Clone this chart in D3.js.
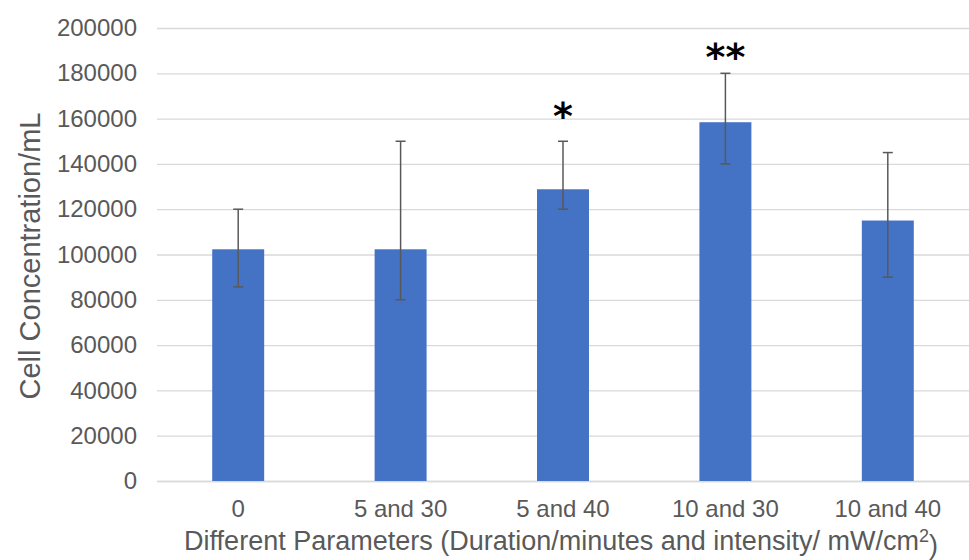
<!DOCTYPE html>
<html>
<head>
<meta charset="utf-8">
<script src="https://cdn.jsdelivr.net/npm/d3@7"></script>
<style>
  body { margin: 0; background: #fff; }
  .tick text, .lbl { font-family: "Liberation Sans", Arial, sans-serif; fill: #595959; }
</style>
</head>
<body>
<div class="CellChart"></div>
<script>
// chart values
var categories = ["0", "5 and 30", "5 and 40", "10 and 30", "10 and 40"];
var means    = [102300, 102300, 128800, 158400, 115000];
var errLow   = [85700, 80000, 120000, 140000, 90000];
var errHigh  = [120000, 150000, 150000, 180000, 145000];
var marks    = ["", "", "*", "**", ""];
var markAt   = [0, 0, 164000, 190000, 0];   // where the significance marks sit (value units)
var yTicks   = [0, 20000, 40000, 60000, 80000, 100000, 120000, 140000, 160000, 180000, 200000];

var margin = {top: 28, right: 0, bottom: 79, left: 157},
    width = 969 - margin.left - margin.right,
    height = 560 - margin.top - margin.bottom;

var svg = d3.select(".CellChart").append("svg")
    .attr("width", 969)
    .attr("height", 560)
  .append("g")
    .attr("transform", "translate(" + margin.left + "," + margin.top + ")");

var x = d3.scaleBand()
    .domain(categories)
    .range([0, width]);

var y = d3.scaleLinear()
    .domain([0, 200000])
    .range([height, 0]);

var barW = x.bandwidth() * 0.32;

var yAxis = d3.axisLeft(y)
    .tickValues(yTicks)
    .tickSize(-width)
    .tickPadding(20)
    .tickFormat(d3.format("d"));

var gy = svg.append("g").attr("class", "y axis").call(yAxis);
gy.select(".domain").remove();
gy.selectAll(".tick line").attr("stroke", "#d9d9d9").attr("stroke-width", 1.3);
gy.selectAll(".tick text").style("font-size", "24px");

var xAxis = d3.axisBottom(x).tickSize(0).tickPadding(19);
var gx = svg.append("g")
    .attr("class", "x axis")
    .attr("transform", "translate(0," + height + ")")
    .call(xAxis);
gx.select(".domain").attr("stroke", "#d9d9d9").attr("stroke-width", 1.3);
gx.selectAll(".tick text").style("font-size", "24px");

var data = categories.map(function(c, i) {
  return {cat: c, mean: means[i], lo: errLow[i], hi: errHigh[i], mark: marks[i], markAt: markAt[i]};
});

svg.selectAll(".bar")
    .data(data)
  .enter().append("rect")
    .attr("class", "bar")
    .attr("x", function(d){ return x(d.cat) + x.bandwidth() / 2 - barW / 2; })
    .attr("width", barW)
    .attr("y", function(d){ return y(d.mean); })
    .attr("height", function(d){ return height - y(d.mean); })
    .style("fill", "#4472c4");

// error bars
var eb = svg.selectAll(".err")
    .data(data)
  .enter().append("g")
    .attr("class", "err")
    .attr("stroke", "#595959")
    .attr("stroke-width", 1.5);

eb.append("line")
    .attr("x1", function(d){ return x(d.cat) + x.bandwidth() / 2; })
    .attr("x2", function(d){ return x(d.cat) + x.bandwidth() / 2; })
    .attr("y1", function(d){ return y(d.lo); })
    .attr("y2", function(d){ return y(d.hi); });

["lo", "hi"].forEach(function(k) {
  eb.append("line")
      .attr("x1", function(d){ return x(d.cat) + x.bandwidth() / 2 - 5; })
      .attr("x2", function(d){ return x(d.cat) + x.bandwidth() / 2 + 5; })
      .attr("y1", function(d){ return y(d[k]); })
      .attr("y2", function(d){ return y(d[k]); });
});

// significance stars
svg.selectAll(".mark")
    .data(data.filter(function(d){ return d.mark; }))
  .enter().append("text")
    .attr("class", "mark")
    .attr("x", function(d){ return x(d.cat) + x.bandwidth() / 2; })
    .attr("y", function(d){ return y(d.markAt) + 19; })
    .attr("text-anchor", "middle")
    .style("font-family", "'DejaVu Sans', sans-serif")
    .style("font-weight", "bold")
    .style("font-size", "38px")
    .style("fill", "#000")
    .text(function(d){ return d.mark; });

// axis titles
svg.append("text")
    .attr("class", "lbl")
    .attr("transform", "translate(" + (30 - margin.left) + "," + (256 - margin.top) + ") rotate(-90)")
    .attr("text-anchor", "middle")
    .attr("dy", "0.35em")
    .style("font-size", "29px")
    .text("Cell Concentration/mL");

var xt = svg.append("text")
    .attr("class", "lbl")
    .attr("x", 561 - margin.left)
    .attr("y", 550 - margin.top)
    .attr("text-anchor", "middle")
    .style("font-size", "27px")
    .text("Different Parameters (Duration/minutes and intensity/ mW/cm");
xt.append("tspan").attr("dy", "-0.45em").style("font-size", "18px").text("2");
xt.append("tspan").attr("dy", "0.45em").text(")");
</script>
</body>
</html>
